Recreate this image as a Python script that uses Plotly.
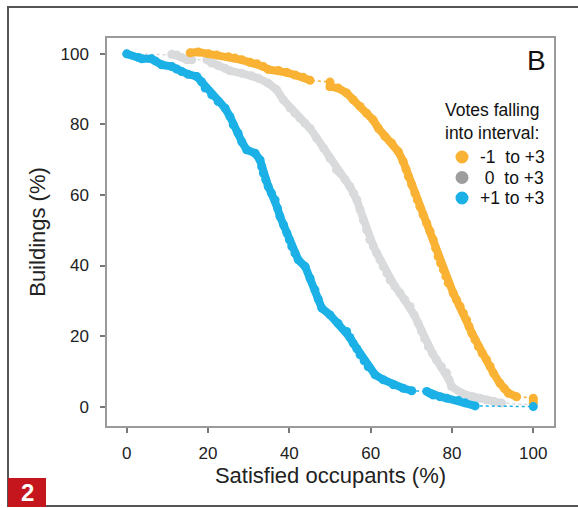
import plotly.graph_objects as go

# percentage of buildings (y) with at least x % satisfied occupants
orange_x = [15.6, 17.6, 20.1, 22.1, 25.0, 26.6, 28.3, 30.3, 32.0, 33.6, 34.8, 37.3, 39.4, 41.4, 43.4, 45.1,
            50.0, 50.0, 52.0, 54.1, 55.7, 57.4, 59.0, 60.6, 61.9, 63.5, 65.2, 66.8, 68.0, 68.7, 69.3, 70.1,
            70.9, 71.5, 72.1, 72.9, 73.8, 74.6, 75.4, 76.0, 76.6, 77.2, 77.9, 78.5, 79.1, 80.3, 81.1, 82.0,
            82.8, 83.6, 84.2, 84.9, 85.7, 86.5, 87.4, 88.5, 89.4, 90.2, 91.8, 92.9, 93.9, 95.9, 100, 100, 100]
orange_y = [100.3, 100.5, 100.0, 99.7, 99.2, 98.8, 98.3, 97.6, 97.2, 96.4, 95.6, 95.3, 94.7, 94.0, 93.4, 92.5,
            92.0, 90.7, 90.3, 88.9, 87.0, 85.1, 83.2, 81.3, 78.9, 76.6, 74.7, 72.3, 69.5, 67.3, 65.2, 62.9,
            60.5, 58.6, 56.7, 54.4, 52.0, 49.7, 47.3, 44.9, 42.5, 40.7, 38.8, 36.9, 35.0, 32.2, 30.3, 28.4,
            26.5, 24.6, 22.7, 20.8, 18.9, 17.0, 15.2, 13.3, 11.4, 9.5, 6.6, 5.1, 3.8, 2.8, 2.4, 1.6, 1.0]

gray_x = [0, 11.1, 12.3, 13.5, 14.8, 16.0, 19.7, 20.9, 22.5, 24.2, 25.4, 28.3, 30.7, 32.4, 34.8, 36.9, 38.5,
          40.2, 41.4, 42.6, 43.8, 45.1, 46.7, 48.4, 50.0, 51.6, 52.5, 53.7, 54.9, 55.8, 56.6, 57.4, 58.2,
          59.0, 59.8, 60.7, 61.5, 62.3, 63.1, 64.0, 64.8, 66.0, 67.2, 68.4, 69.7, 70.7, 71.7, 72.5, 73.3,
          74.2, 75.2, 76.2, 77.4, 78.7, 79.3, 79.9, 82.4, 85.2, 86.8, 88.5, 90.3, 92.2, 100]
gray_y = [100, 99.9, 99.7, 99.0, 98.3, 98.3, 98.3, 97.4, 96.7, 95.9, 95.2, 94.5, 93.8, 93.1, 91.7, 89.8, 87.0,
          84.6, 83.2, 81.8, 80.4, 78.9, 76.1, 73.3, 70.4, 67.1, 66.2, 64.4, 62.4, 60.5, 58.6, 55.8, 52.9,
          50.1, 47.3, 45.4, 43.5, 41.6, 39.7, 37.8, 35.9, 34.0, 32.2, 30.3, 28.4, 26.0, 23.6, 21.4, 19.2,
          17.0, 15.1, 13.2, 11.3, 9.5, 7.6, 5.7, 3.8, 2.8, 2.4, 1.9, 1.5, 1.0, 0.5]

blue_x = [0, 2.9, 3.7, 6.1, 7.0, 8.6, 11.1, 12.3, 13.5, 15.1, 17.2, 18.4, 19.3, 20.9, 22.5, 24.2, 25.4,
          26.2, 27.4, 28.3, 29.5, 31.6, 32.8, 33.2, 33.6, 34.2, 34.8, 35.6, 36.5, 37.1, 37.7, 38.6, 39.4,
          40.0, 40.6, 41.4, 42.2, 43.9, 45.1, 46.3, 47.1, 48.0, 50.0, 52.0, 54.1, 54.9, 55.7, 56.6, 57.4,
          58.4, 59.4, 61.1, 63.1, 65.6, 68.0, 70.1, 73.8, 74.6, 75.4, 77.1, 78.7, 81.6, 83.2, 85.7, 100]
blue_y = [100, 99.0, 98.6, 98.6, 98.0, 96.9, 96.4, 95.7, 95.0, 94.2, 93.6, 92.1, 90.3, 88.4, 86.5, 84.6, 82.2,
          79.9, 77.5, 75.1, 72.8, 71.8, 69.9, 68.0, 66.2, 64.3, 62.4, 60.5, 58.6, 56.2, 53.9, 51.5, 49.2,
          47.3, 45.4, 43.5, 41.6, 39.7, 36.4, 33.1, 30.5, 27.9, 26.0, 23.6, 21.3, 19.6, 18.0, 16.4, 14.7,
          13.0, 11.3, 9.0, 7.6, 6.2, 5.2, 4.5, 4.3, 3.8, 3.3, 2.8, 2.4, 1.7, 1.1, 0.2, 0]

series = [
    (gray_x, gray_y, "#d9dadb"),
    (orange_x, orange_y, "#f9b233"),
    (blue_x, blue_y, "#1bb1e7"),
]
legend_names = ["-1\u00a0 to +3", "\u00a00\u00a0 to +3", "+1 to +3"]
legend_colors = ["#f9b233", "#9d9d9d", "#1bb1e7"]

# plot area in pixels
L, R, T, B = 107, 24, 38, 82
W, H = 578, 508
pw, ph = W - L - R, H - T - B
x_rng = [-4.85, 105.1]
y_rng = [-5.5, 104.5]
sx = pw / (x_rng[1] - x_rng[0])
sy = ph / (y_rng[1] - y_rng[0])


def band(xs, ys, gap=14):
    # join neighbouring points into a solid band, break where points are far apart
    bx, by = [xs[0]], [ys[0]]
    for i in range(1, len(xs)):
        d = (((xs[i] - xs[i - 1]) * sx) ** 2 + ((ys[i] - ys[i - 1]) * sy) ** 2) ** 0.5
        if d > gap:
            bx.append(None)
            by.append(None)
        bx.append(xs[i])
        by.append(ys[i])
    return bx, by


fig = go.Figure()

for xs, ys, col in series:
    fig.add_trace(go.Scatter(x=xs, y=ys, mode="lines", line=dict(color=col, width=1.5, dash="dot"),
                             showlegend=False, hoverinfo="skip"))
    bx, by = band(xs, ys)
    fig.add_trace(go.Scatter(x=bx, y=by, mode="lines", line=dict(color=col, width=8),
                             showlegend=False, hoverinfo="skip"))
    fig.add_trace(go.Scatter(x=xs, y=ys, mode="markers", marker=dict(color=col, size=9),
                             showlegend=False))

font = "Liberation Sans, Arial, sans-serif"
axis_common = dict(showline=True, mirror=True, linecolor="#9a9a9a", linewidth=1.5,
                   ticks="outside", ticklen=5, tickwidth=1.5, tickcolor="#777",
                   showgrid=False, zeroline=False, tickvals=[0, 20, 40, 60, 80, 100],
                   tickfont=dict(size=17, color="#222"))

fig.update_layout(
    width=W, height=H,
    margin=dict(l=L, r=R, t=T, b=B),
    paper_bgcolor="white", plot_bgcolor="white",
    font=dict(family=font, color="#222"),
    xaxis=dict(range=x_rng, title=dict(text="Satisfied occupants (%)", font=dict(size=22), standoff=4),
               ticklabelstandoff=6, **axis_common),
    yaxis=dict(range=y_rng, title=dict(text="Buildings (%)", font=dict(size=22), standoff=9),
               ticklabelstandoff=8, **axis_common),
    showlegend=False,
)


def px_x(v):
    return (v - L) / pw


def px_y(v):
    return (H - B - v) / ph


def label(x, y, text, size, color="#111", xanchor="left"):
    fig.add_annotation(x=px_x(x), y=px_y(y), xref="paper", yref="paper", xanchor=xanchor,
                       yanchor="middle", text=text, showarrow=False, align="left",
                       font=dict(size=size, color=color, family=font))


# legend drawn by hand to match the spacing of the original
label(443, 121, "Votes falling<br>into interval:", 17.5)
for i, (name, col) in enumerate(zip(legend_names, legend_colors)):
    yy = 157 + i * 20.5
    fig.add_shape(type="circle", xref="paper", yref="paper", xsizemode="pixel", ysizemode="pixel",
                  xanchor=px_x(462), yanchor=px_y(yy), x0=-6.5, x1=6.5, y0=-6.5, y1=6.5,
                  fillcolor=col, line=dict(width=0))
    label(478, yy, name, 17.5)

# outer frame, panel letter and figure number
fig.add_shape(type="rect", xref="paper", yref="paper", x0=px_x(8), x1=px_x(610), y0=px_y(506), y1=px_y(7),
              line=dict(color="#555", width=2), fillcolor="rgba(0,0,0,0)", layer="below")
fig.add_shape(type="rect", xref="paper", yref="paper", x0=px_x(8), x1=px_x(46), y0=px_y(507), y1=px_y(478),
              line=dict(width=0), fillcolor="#c4161c")
label(27, 492, "<b>2</b>", 24, color="white", xanchor="center")
label(536, 60, "B", 28, xanchor="center")

fig.write_html("out.html", config={"displayModeBar": False},
               post_script="document.body.style.margin='0px';")
